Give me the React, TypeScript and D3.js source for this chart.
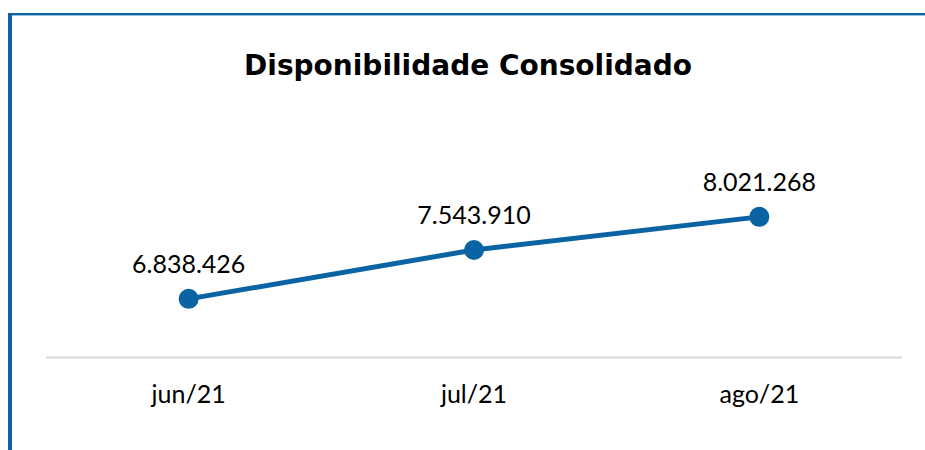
import React from "react";
import * as d3 from "d3";

const categories = ["jun/21", "jul/21", "ago/21"];
const values = [6838426, 7543910, 8021268];
const yDomain = [6000000, 9000000];
const title = "Disponibilidade Consolidado";

const W = 925;
const H = 450;
const BLUE = "#0a64a4";
const FONT = "Lato, 'Open Sans', sans-serif";
const TITLE_FONT = "'DejaVu Sans', Lato, sans-serif";

const fmt = (v: number) => d3.format(",")(v).replace(/,/g, ".");

export default function App() {
  const x = d3.scaleBand<string>().domain(categories).range([46, 902]);
  const y = d3.scaleLinear().domain(yDomain).range([357, 149]);
  const cx = (c: string) => (x(c) ?? 0) + x.bandwidth() / 2;
  const pts = categories.map((c, i) => [cx(c), y(values[i])] as [number, number]);
  const line = d3.line()(pts) ?? "";

  return (
    <svg width={W} height={H} style={{ position: "absolute", left: 0, top: 0, background: "#fff" }}>
      <rect x={0} y={0} width={W} height={H} fill="#fff" />
      <rect x={8} y={13} width={W - 8} height={2.4} fill={BLUE} />
      <rect x={8} y={13} width={4} height={H - 13} fill={BLUE} />
      <text x={468} y={75} textAnchor="middle" fontFamily={TITLE_FONT} fontWeight={700} fontSize={28} fill="#000">
        {title}
      </text>
      <line x1={46} x2={902} y1={357.5} y2={357.5} stroke="#d9d9d9" strokeWidth={2} />
      <path d={line} fill="none" stroke={BLUE} strokeWidth={5} strokeLinejoin="round" />
      {pts.map((p, i) => (
        <circle key={i} cx={p[0]} cy={p[1]} r={10} fill={BLUE} />
      ))}
      {pts.map((p, i) => (
        <text key={"l" + i} x={p[0]} y={p[1] - 26} textAnchor="middle" fontFamily={FONT} fontSize={25} fill="#000">
          {fmt(values[i])}
        </text>
      ))}
      {categories.map((c) => (
        <text key={c} x={cx(c)} y={403} textAnchor="middle" fontFamily={FONT} fontSize={25} fill="#000">
          {c}
        </text>
      ))}
    </svg>
  );
}
